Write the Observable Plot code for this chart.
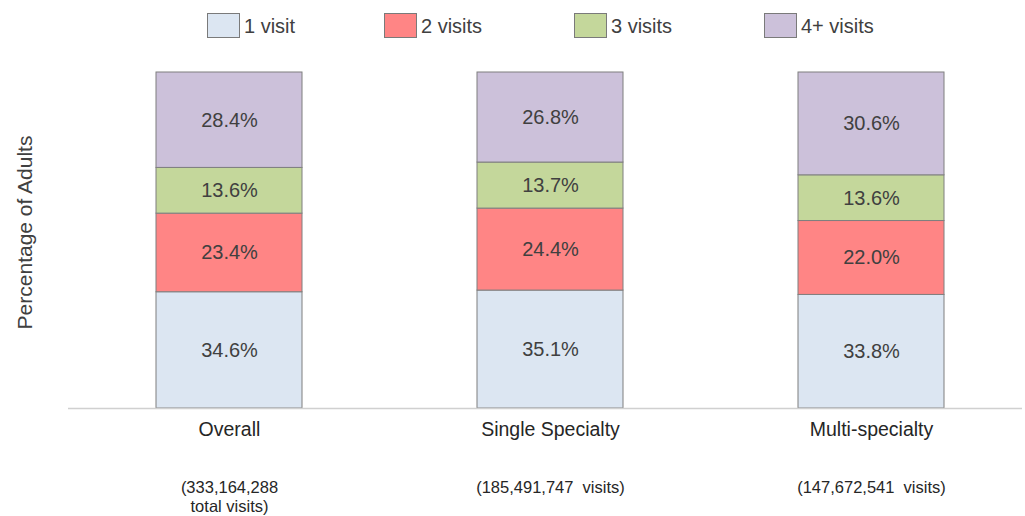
<!DOCTYPE html>
<html>
<head>
<meta charset="utf-8">
<script src="https://cdn.jsdelivr.net/npm/d3@7"></script>
<script src="https://cdn.jsdelivr.net/npm/@observablehq/plot@0.6"></script>
<style>
  html, body { margin: 0; padding: 0; background: #fff; }
  body { width: 1025px; height: 516px; overflow: hidden; font-family: "Liberation Sans", Arial, sans-serif; }
  #legend { position: relative; height: 52px; width: 1025px; }
  .item { position: absolute; top: 13px; height: 25px; display: flex; align-items: center; }
  .sw { width: 31px; height: 23px; border: 1px solid #7a7a7a; box-sizing: content-box; }
  .lab { margin-left: 4px; font-size: 20px; color: #404040; line-height: 25px; position: relative; top: 1px; }
  svg text.pre { white-space: pre; }
</style>
</head>
<body>
<div id="legend"></div>
<div id="chart"></div>
<script>
const categories = ["Overall", "Single Specialty", "Multi-specialty"];
const countLabels = ["(333,164,288\ntotal visits)", "(185,491,747  visits)", "(147,672,541  visits)"];
const series = ["1 visit", "2 visits", "3 visits", "4+ visits"];
const colors = ["#dce6f2", "#ff8585", "#c4d79b", "#ccc1da"];
const values = {
  "1 visit":   [34.6, 35.1, 33.8],
  "2 visits":  [23.4, 24.4, 22.0],
  "3 visits":  [13.6, 13.7, 13.6],
  "4+ visits": [28.4, 26.8, 30.6]
};
const legendLeft = [207, 384, 574, 764];

const rows = [];
series.forEach(s => categories.forEach((c, i) => rows.push({category: c, series: s, value: values[s][i]})));
const labelRows = categories.map((c, i) => ({category: c, count: countLabels[i]}));

// legend
const lg = document.getElementById("legend");
series.forEach((s, i) => {
  const it = document.createElement("div");
  it.className = "item";
  it.style.left = legendLeft[i] + "px";
  const sw = document.createElement("div");
  sw.className = "sw";
  sw.style.background = colors[i];
  const lb = document.createElement("span");
  lb.className = "lab";
  lb.textContent = s;
  it.appendChild(sw); it.appendChild(lb);
  lg.appendChild(it);
});

const chart = Plot.plot({
  width: 1025,
  height: 464,
  marginLeft: 68,
  marginRight: 3,
  marginTop: 20,
  marginBottom: 108,
  style: {fontFamily: "Liberation Sans, Arial, sans-serif", background: "#fff"},
  x: {type: "band", domain: categories, range: [67.25, 1031.75], paddingInner: 0.546, paddingOuter: 0.273, axis: null},
  y: {domain: [0, 100], axis: null},
  color: {domain: series, range: colors},
  marks: [
    Plot.barY(rows, Plot.stackY({x: "category", y: "value", z: "series", fill: "series", stroke: "#7f7f7f", strokeWidth: 1})),
    Plot.text(rows, Plot.stackY({x: "category", y: "value", z: "series", text: d => d.value.toFixed(1) + "%", fill: "#404040", fontSize: 20, lineAnchor: "middle"})),
    Plot.ruleY([0], {stroke: "#d0d0d0", strokeWidth: 1.5}),
    Plot.text(labelRows, {x: "category", y: () => 0, text: "category", lineAnchor: "top", dy: 14, fontSize: 19.5, fill: "#262626"}),
    Plot.text(labelRows, {x: "category", y: () => 0, text: "count", lineAnchor: "top", dy: 71, fontSize: 16.5, lineHeight: 1.15, fill: "#262626", className: "pre"}),
    Plot.text(["Percentage of Adults"], {frameAnchor: "left", text: d => d, rotate: -90, textAnchor: "middle", dx: -43, dy: -8, fontSize: 21, fill: "#404040", lineAnchor: "middle"})
  ]
});
document.getElementById("chart").appendChild(chart);
</script>
</body>
</html>
